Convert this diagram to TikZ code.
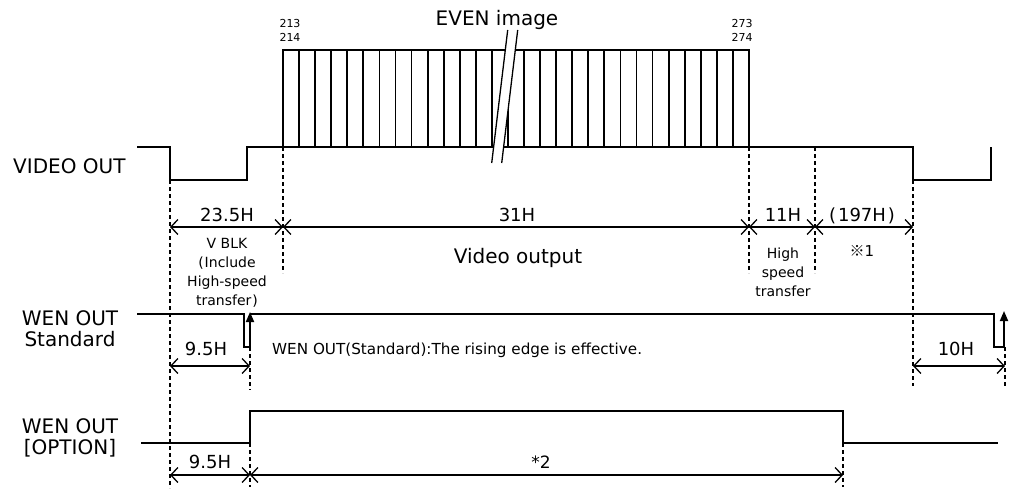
\documentclass[tikz,border=0pt]{standalone}
\usepackage{fontspec}
\setmainfont{DejaVu Sans}
\newfontfamily\jpfont{Noto Sans CJK JP}
\usetikzlibrary{arrows.meta, positioning, calc}

\begin{document}
\begin{tikzpicture}[
    x=1pt, y=-1pt,
    sig/.style={line width=1.8pt, line join=miter},
    guide/.style={line width=1.3pt, dash pattern=on 4pt off 3pt},
    dimarr/.style={{Straight Barb[length=7pt,width=15pt]}-{Straight Barb[length=7pt,width=15pt]}, line width=1.3pt},
    edgearr/.style={-{Triangle[length=10pt,width=8pt]}, line width=1.8pt},
    big/.style={font=\fontsize{20}{21}\selectfont, inner sep=0pt, align=center},
    dimlbl/.style={font=\fontsize{18}{21}\selectfont, inner sep=0pt},
    midl/.style={font=\fontsize{14}{19}\selectfont, inner sep=0pt, align=center},
    note/.style={font=\fontsize{15.2}{19}\selectfont, inner sep=0pt},
    tinyl/.style={font=\fontsize{11}{14}\selectfont, inner sep=0pt, align=center}
]
\useasboundingbox (0,0) rectangle (1014,490);

% dimension points
\coordinate (vbS) at (170,227);
\coordinate (vbE) at (283,227);
\coordinate (voE) at (749,227);
\coordinate (hsE) at (815,227);
\coordinate (rmE) at (913,227);
\coordinate (stS) at (170,366);
\coordinate (stE) at (250,366);
\coordinate (tnS) at (913,366);
\coordinate (tnE) at (1005,366);
\coordinate (opS) at (170,475);
\coordinate (opE) at (250,475);
\coordinate (opF) at (843,475);

% signal names
\node[big, anchor=base west] (video) at (13,173) {VIDEO OUT};
\node[big, anchor=base] (wenstd) at (70,346) {WEN OUT\\Standard};
\node[big, anchor=base] (wenopt) at (70,454) {WEN OUT\\{}[OPTION]};

% VIDEO OUT
\draw[sig] (137,147) -- (170,147) -- (170,180) -- (247,180) -- (247,147) -- (749,147)
    -- (913,147) -- (913,180) -- (991,180) -- (991,147);
\draw[sig] (283,147) -- (283,50) -- (749,50) -- (749,147);
\foreach \k in {1,...,28}
    \draw[sig] ({283+\k*16.069},50) -- ({283+\k*16.069},147);
\fill[white] (491.7,163) -- (507.7,30) -- (517.7,30) -- (501.7,163) -- cycle;
\draw[line width=1.3pt] (491.7,163) -- (507.7,30);
\draw[line width=1.3pt] (501.7,163) -- (517.7,30);
\node[big, anchor=base] (even) at (497,25) {EVEN image};
\node[tinyl, anchor=base] (lnA) at (290,41) {213\\214};
\node[tinyl, anchor=base] (lnB) at (742,41) {273\\274};

% WEN OUT Standard
\draw[sig] (137,314) -- (244,314) -- (244,347) -- (250,347);
\draw[edgearr] (250,347) -- (250,312);
\draw[sig] (250,314) -- (994,314) -- (994,347) -- (1004,347);
\draw[edgearr] (1004,347) -- (1004,311);

% WEN OUT [OPTION]
\draw[sig] (141,443) -- (250,443) -- (250,411) -- (843,411) -- (843,443) -- (998,443);

% guide lines
\draw[guide] (170,180) -- (170,488);
\draw[guide] (283,147) -- (283,273);
\draw[guide] (749,147) -- (749,273);
\draw[guide] (815,147) -- (815,273);
\draw[guide] (913,180) -- (913,386);
\draw[guide] (250,347) -- (250,390);
\draw[guide] (250,443) -- (250,487);
\draw[guide] (1005,347) -- (1005,386);
\draw[guide] (843,443) -- (843,487);

% timing
\draw[dimarr] (vbS) -- (vbE);
\draw[dimarr] (vbE) -- (voE);
\draw[dimarr] (voE) -- (hsE);
\draw[dimarr] (hsE) -- (rmE);
\draw[dimarr] (stS) -- (stE);
\draw[dimarr] (tnS) -- (tnE);
\draw[dimarr] (opS) -- (opE);
\draw[dimarr] (opE) -- (opF);

\node[dimlbl, anchor=base] (tVB) at (227,221) {23.5H};
\node[dimlbl, anchor=base] (tVO) at (517,221) {31H};
\node[dimlbl, anchor=base] (tHS) at (783,221) {11H};
\node[dimlbl, anchor=base] (tRM) at (862,221) {(\kern2pt197H\kern2pt)};
\node[midl, anchor=base] (lVB) at (227,305) {V BLK\\(\kern1pt Include\\High-speed\\transfer\kern1pt)};
\node[font=\fontsize{20}{21}\selectfont, inner sep=0pt, anchor=base] (lVO) at (518,263) {Video output};
\node[midl, anchor=base] (lHS) at (783,296) {High\\speed\\transfer};
\node[font=\fontsize{15}{19}\selectfont, inner sep=0pt, anchor=base] (lRM) at (862,256) {{\jpfont ※}1};
\node[dimlbl, anchor=base] (tST) at (206,355) {9.5H};
\node[note, anchor=base west] (rule) at (272,354) {WEN OUT(Standard):The rising edge is effective.};
\node[dimlbl, anchor=base] (tTN) at (956,355) {10H};
\node[dimlbl, anchor=base] (tOP) at (210,468) {9.5H};
\node[font=\fontsize{17}{19}\selectfont, inner sep=0pt, anchor=base] (tOF) at (541,468) {*2};

\end{tikzpicture}
\end{document}
